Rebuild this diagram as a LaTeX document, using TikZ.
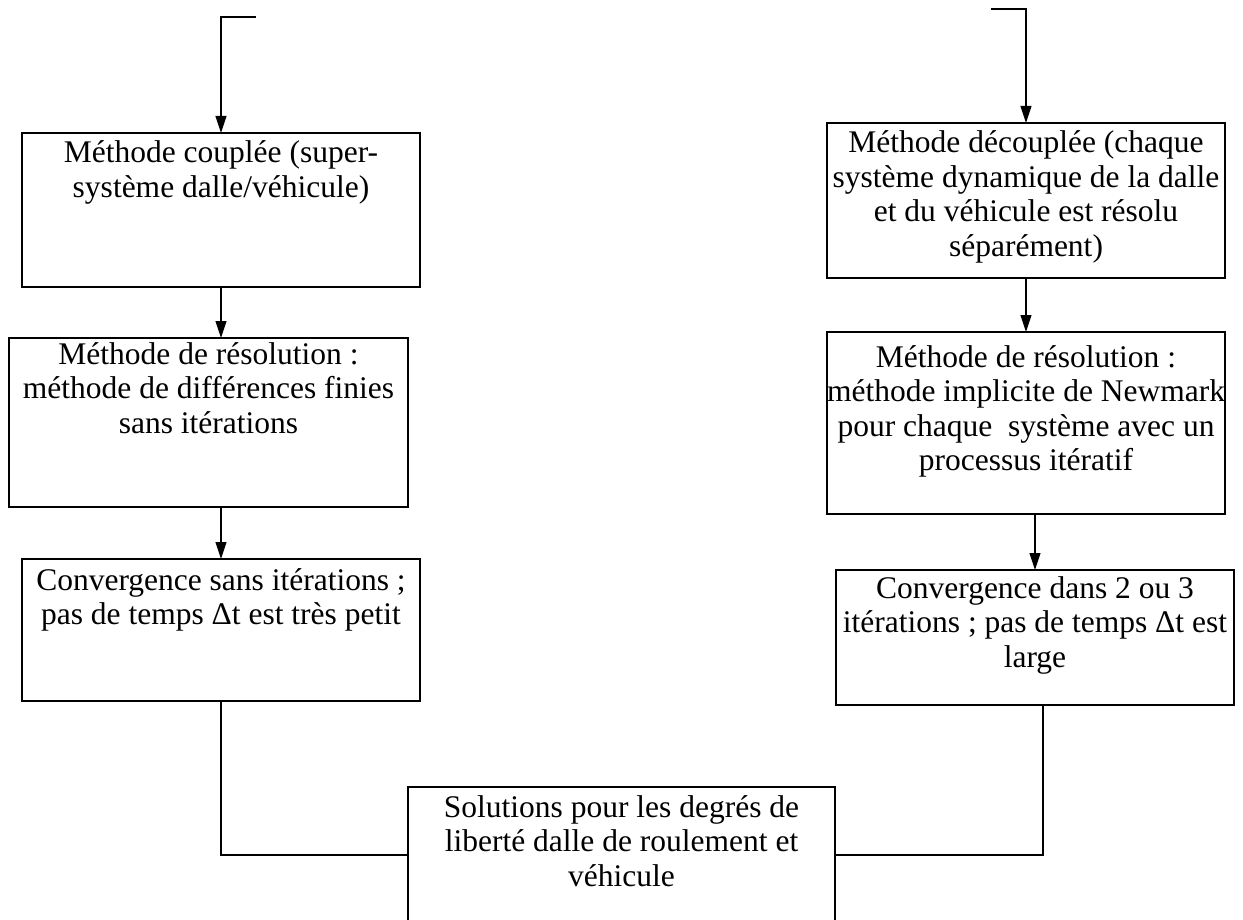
\documentclass[tikz,border=0pt]{standalone}
\usepackage{fontspec}
\setmainfont{Liberation Serif}
\usetikzlibrary{arrows.meta}
\newcommand{\boxtext}[4]{\parbox[t][#2][t]{#1}{\centering\fontsize{31.5}{34.5}\selectfont\rule{0pt}{#3}#4}}
\begin{document}
\begin{tikzpicture}[x=1pt,y=-1pt,
  box/.style={draw, line width=1.4pt, inner sep=0pt, outer sep=0pt, anchor=north west},
  conn/.style={line width=1.1pt},
  arr/.style={conn, -{Triangle[length=17pt,width=11pt]}}]
\useasboundingbox (0,0) rectangle (1243,920);
% left column
\node[box] (b1) at (22,133) {\boxtext{398pt}{154pt}{30pt}{Méthode couplée (super-\\système dalle/véhicule)}};
\node[box] (b2) at (9,338) {\boxtext{399pt}{169pt}{26pt}{Méthode de résolution :\\méthode de différences finies\\sans itérations}};
\node[box] (b3) at (22,559) {\boxtext{398pt}{142pt}{31pt}{Convergence sans itérations ;\\pas de temps Δt est très petit}};
% right column
\node[box] (r1) at (827,123) {\boxtext{398pt}{155pt}{30pt}{Méthode découplée (chaque\\système dynamique de la dalle\\et du véhicule est résolu\\séparément)}};
\node[box] (r2) at (827,332) {\boxtext{398pt}{182pt}{35pt}{Méthode de résolution :\\méthode implicite de Newmark\\pour chaque~ système avec un\\processus itératif}};
\node[box] (r3) at (836,570) {\boxtext{398pt}{135pt}{28pt}{Convergence dans 2 ou 3\\itérations ; pas de temps Δt est\\large}};
% bottom
\node[box] (b7) at (408,787) {\boxtext{427pt}{136pt}{30pt}{Solutions pour les degrés de\\liberté dalle de roulement et\\véhicule}};
% connectors
\coordinate (s1) at (256,17);
\coordinate (s2) at (991,9);
\draw[arr] (s1) -| (b1.north);
\draw[arr] (b1.south) -- (b1.south |- b2.north);
\draw[arr] (b3.north |- b2.south) -- (b3.north);
\draw[conn] (b3.south) |- (b7.west);
\draw[arr] (s2) -| (r1.north);
\draw[arr] (r1.south) -- (r1.south |- r2.north);
\draw[arr] (r3.north |- r2.south) -- (r3.north);
\draw[conn] ([xshift=8pt]r3.south) |- (b7.east);
\end{tikzpicture}
\end{document}
